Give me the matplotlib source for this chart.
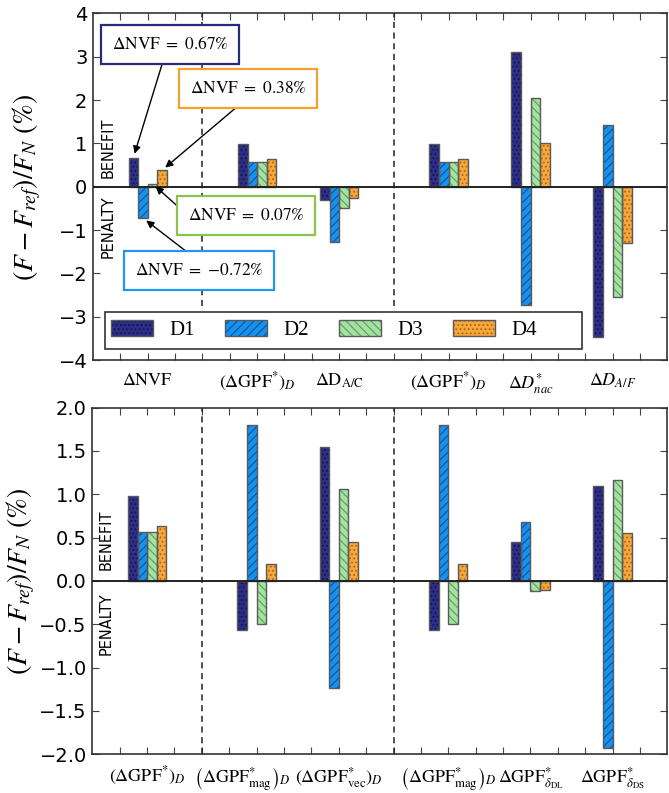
import numpy as np
import matplotlib
matplotlib.use("Agg")
import matplotlib.pyplot as plt
from matplotlib.patches import Rectangle
from matplotlib.legend_handler import HandlerTuple
from matplotlib.transforms import ScaledTranslation

plt.rcParams["mathtext.fontset"] = "stix"
plt.rcParams["font.family"] = "DejaVu Sans"
plt.rcParams["hatch.linewidth"] = 0.8

# ---- data -------------------------------------------------------------
series = ["D1", "D2", "D3", "D4"]

top_labels = [r"$\Delta\mathrm{NVF}$", r"$(\Delta\mathrm{GPF}^{*})_D$",
              r"$\Delta\mathrm{D}_{\mathrm{A/C}}$", r"$(\Delta\mathrm{GPF}^{*})_D$",
              r"$\Delta D^{*}_{nac}$", r"$\Delta D_{A/F}$"]
top_pos = [2, 6, 9, 13, 16, 19]
top_d1 = [0.67, 0.98, -0.31, 0.98, 3.12, -3.46]
top_d2 = [-0.72, 0.56, -1.28, 0.56, -2.74, 1.43]
top_d3 = [0.07, 0.56, -0.50, 0.56, 2.04, -2.55]
top_d4 = [0.38, 0.63, -0.27, 0.63, 1.02, -1.29]

bot_labels = [r"$(\Delta\mathrm{GPF}^{*})_D$",
              r"$\left(\Delta\mathrm{GPF}^{*}_{\mathrm{mag}}\right)_D$",
              r"$(\Delta\mathrm{GPF}^{*}_{\mathrm{vec}})_D$",
              r"$\left(\Delta\mathrm{GPF}^{*}_{\mathrm{mag}}\right)_D$",
              r"$\Delta\mathrm{GPF}^{*}_{\delta_{\mathrm{DL}}}$",
              r"$\Delta\mathrm{GPF}^{*}_{\delta_{\mathrm{DS}}}$"]
bot_pos = [2, 6, 9, 13, 16, 19]
bot_d1 = [0.98, -0.565, 1.55, -0.565, 0.45, 1.10]
bot_d2 = [0.56, 1.80, -1.24, 1.80, 0.68, -1.93]
bot_d3 = [0.56, -0.50, 1.06, -0.50, -0.115, 1.17]
bot_d4 = [0.63, 0.19, 0.45, 0.19, -0.10, 0.55]

separators = [4, 11]

nvf_values = [0.67, -0.72, 0.07, 0.38]

# ---- styling ----------------------------------------------------------
face = ["#2d2e86", "#1591ee", "#a3e2a0", "#f6a63c"]
hatch_col = ["#151550", "#0d4f99", "#5f9a62", "#b06a10"]
hatches = ["....", "////", "\\\\\\\\", "...."]
edge = "#5a5a5a"
width = 0.35
offsets = [-1.5 * width, -0.5 * width, 0.5 * width, 1.5 * width]

fig = plt.figure(figsize=(6.69, 7.93), dpi=100)
ax1 = fig.add_axes([0.139, 0.546, 0.8585, 0.437])
ax2 = fig.add_axes([0.138, 0.049, 0.8595, 0.437])


def draw_bars(ax, pos, vals_list):
    handles = []
    for i, vals in enumerate(vals_list):
        x = np.array(pos) + offsets[i]
        b = ax.bar(x, vals, width=width, color=face[i], edgecolor=hatch_col[i],
                   hatch=hatches[i], linewidth=0, zorder=3, label=series[i])
        o = ax.bar(x, vals, width=width, fill=False, edgecolor=edge,
                   linewidth=1.0, zorder=3.5)
        handles.append((b, o))
    return handles


def style_axis(ax, pos, labels, ylim, yticks, yticklabels, label_x):
    ax.set_xlim(0, 21)
    ax.set_ylim(*ylim)
    ax.axhline(0, color="#222222", linewidth=1.4, zorder=4)
    ax.set_xticks(range(1, 21), minor=True)
    ax.set_xticks(pos)
    ax.set_xticklabels(labels, fontsize=13)
    ax.tick_params(axis="x", which="both", direction="in", top=True,
                   bottom=True, length=5, width=0.8, color="#444444", pad=8)
    ax.set_yticks(yticks)
    ax.set_yticklabels(yticklabels, fontsize=14)
    ax.tick_params(axis="y", direction="in", left=True, right=True,
                   length=5, width=0.8, color="#444444", pad=4)
    for s in ax.spines.values():
        s.set_color("#333333")
        s.set_linewidth(1.2)
    ax.set_ylabel(r"$\left(F-F_{ref}\right)/F_N\ (\%)$", fontsize=20)
    ax.yaxis.set_label_coords(label_x, 0.5)


# ---- top panel --------------------------------------------------------
h = draw_bars(ax1, top_pos, [top_d1, top_d2, top_d3, top_d4])
style_axis(ax1, top_pos, top_labels, (-4, 4), range(-4, 5),
           [("\u2212%d" % -v) if v < 0 else "%d" % v for v in range(-4, 5)],
           -0.087)
for s in separators:
    ax1.vlines(s, -2.75, 4, colors="#222222", linestyles=(0, (4, 3)),
               linewidth=1.1, zorder=2)
ax1.text(0.55, 0.89, "BENEFIT", rotation=90, fontsize=10.5, ha="center",
         va="center")
ax1.text(0.55, -0.93, "PENALTY", rotation=90, fontsize=10.5, ha="center",
         va="center")

# legend: fixed white frame with the entries placed inside it
frame = Rectangle((0.021, 0.032), 0.831, 0.107, transform=ax1.transAxes,
                  facecolor="white", edgecolor="#333333", linewidth=1.2,
                  zorder=5)
ax1.add_patch(frame)
leg = ax1.legend(handles=h, labels=series, ncol=4, loc="center left",
                 bbox_to_anchor=(0.021, 0.0855), borderaxespad=0,
                 handler_map={tuple: HandlerTuple(ndivide=1, pad=0)},
                 prop={"family": "Liberation Serif", "size": 15},
                 frameon=False, handlelength=2.02, handleheight=0.8,
                 borderpad=0.3, columnspacing=1.45, handletextpad=0.77)
leg.set_zorder(6)

# annotations of the ΔNVF values
note_xy = [(2.82, 3.29), (3.88, -1.93), (5.6, -0.66), (5.67, 2.27)]
note_rel = [(0.46, 0.0), (0.5, 1.0), (0.0, 0.5), (0.5, 0.0)]
note_edge = ["#2a2a7a", "#2196f3", "#8bc34a", "#f5a030"]
for i in range(4):
    v = nvf_values[i]
    bar_x = top_pos[0] + offsets[i]
    num = ("{-}%.2f" % -v) if v < 0 else "%.2f" % v
    txt = r"$\Delta\mathrm{NVF}\ =\ %s\%%$" % num
    ax1.annotate(txt, xy=(bar_x, v), xytext=note_xy[i], fontsize=12.5,
                 ha="center", va="center", zorder=7,
                 bbox=dict(boxstyle="square,pad=0.6", fc="white",
                           ec=note_edge[i], lw=1.6),
                 arrowprops=dict(arrowstyle="-|>", color="black", lw=1.0,
                                 mutation_scale=11, shrinkA=0, shrinkB=3,
                                 relpos=note_rel[i]))

# ---- bottom panel -----------------------------------------------------
draw_bars(ax2, bot_pos, [bot_d1, bot_d2, bot_d3, bot_d4])
yt = np.arange(-2.0, 2.01, 0.5)
style_axis(ax2, bot_pos, bot_labels, (-2, 2), yt,
           [("\u2212%.1f" % -v) if v < 0 else "%.1f" % v for v in yt],
           -0.096)
for s in separators:
    ax2.vlines(s, -2, 2, colors="#222222", linestyles=(0, (4, 3)),
               linewidth=1.1, zorder=2)
ax2.text(0.5, 0.47, "BENEFIT", rotation=90, fontsize=10.5, ha="center",
         va="center")
ax2.text(0.5, -0.49, "PENALTY", rotation=90, fontsize=10.5, ha="center",
         va="center")

# nudge the first magnitude label left so it clears its neighbour
lab = ax2.get_xticklabels()[1]
lab.set_transform(lab.get_transform() + ScaledTranslation(-0.14, 0, fig.dpi_scale_trans))

fig.savefig("out.png", dpi=100)
